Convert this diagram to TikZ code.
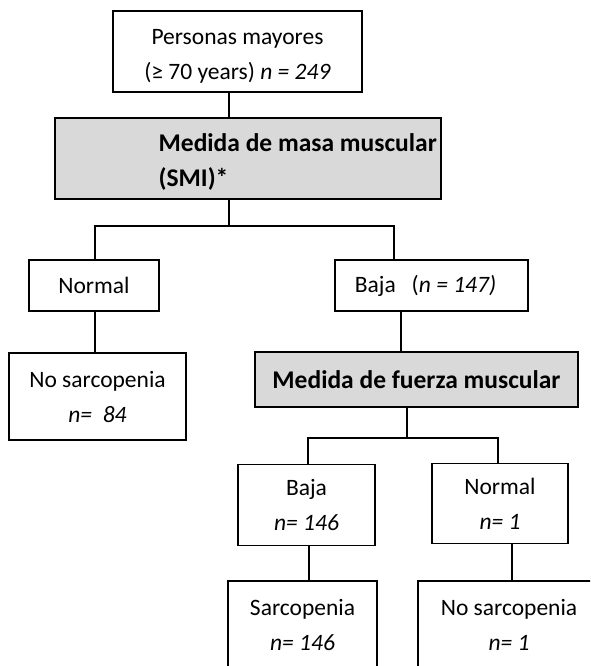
\documentclass[tikz,border=0pt]{standalone}
\usepackage{fontspec}
\setmainfont{Carlito}
\definecolor{boxgray}{RGB}{217,217,217}
\begin{document}
\begin{tikzpicture}[x=1pt,y=-1pt,
  line width=1.3pt,
  txt/.style={font=\fontsize{23.5}{35}\selectfont, align=center, inner sep=0pt},
  btxt/.style={font=\fontsize{25.5}{35}\selectfont\bfseries, align=left, inner sep=0pt},
  whitebox/.style={draw=black, fill=white, inner sep=0pt, txt},
  graybox/.style={draw=black, fill=boxgray, inner sep=0pt}]
\useasboundingbox (0,0) rectangle (590,666);
\clip (0,0) rectangle (590,666);

% junction / branch coordinates
\coordinate (j1) at (229,226);
\coordinate (k1) at (394,0);
\coordinate (xl) at (95,0);
\coordinate (k2) at (401,0);
\coordinate (j2) at (407,438);
\coordinate (k3) at (308,0);
\coordinate (k4) at (498,0);
\coordinate (k5) at (309,0);
\coordinate (k6) at (512,0);

% boxes
\node[whitebox, minimum width=249pt, minimum height=81pt] (pm) at (237.5,51.5)
  {\rule{0pt}{25pt}Personas mayores\\(≥ 70 years) \textit{n = 249}};
\node[graybox, minimum width=386pt, minimum height=81pt] (smi) at (248,158.5) {};
\node[btxt, anchor=west] (smitext) at (158,162) {Medida de masa muscular\\(SMI)*};

\node[whitebox, minimum width=130pt, minimum height=51pt] (normal) at (94,285.5) {Normal};
\node[whitebox, minimum width=193pt, minimum height=51pt] (baja) at (431.5,285.5)
  {Baja\ \ \ (\textit{n = 147)}\hspace{12pt}};

\node[whitebox, minimum width=177pt, minimum height=87pt] (nosarc) at (97.5,396.5)
  {No sarcopenia\\\textit{n=\ \ 84}};
\node[graybox, minimum width=323pt, minimum height=55pt, font=\fontsize{25.5}{35}\selectfont\bfseries] (fuerza) at (416.5,379.5)
  {Medida de fuerza muscular};

\node[whitebox, minimum width=137pt, minimum height=81pt] (baja146) at (306.5,505)
  {Baja\\\textit{n= 146}};
\node[whitebox, minimum width=136pt, minimum height=80pt] (normal1) at (500,503.5)
  {Normal\\\textit{n= 1}};

\node[whitebox, minimum width=149pt, minimum height=88pt] (sarc) at (302.5,625)
  {Sarcopenia\\\textit{n= 146}};
\node[whitebox, minimum width=182pt, minimum height=88pt] (nosarc1) at (509,625)
  {No sarcopenia\\\textit{n= 1}};

% connectors
\draw (j1 |- pm.south) -- (j1 |- smi.north);
\draw (j1 |- smi.south) -- (j1);
\draw (xl |- normal.north) |- (j1) -| (k1 |- baja.north);
\draw (xl |- normal.south) -- (xl |- nosarc.north);
\draw (k2 |- baja.south) -- (k2 |- fuerza.north);
\draw (j2 |- fuerza.south) -- (j2);
\draw (k3 |- baja146.north) |- (j2) -| (k4 |- normal1.north);
\draw (k5 |- baja146.south) -- (k5 |- sarc.north);
\draw (k6 |- normal1.south) -- (k6 |- nosarc1.north);
\end{tikzpicture}
\end{document}
